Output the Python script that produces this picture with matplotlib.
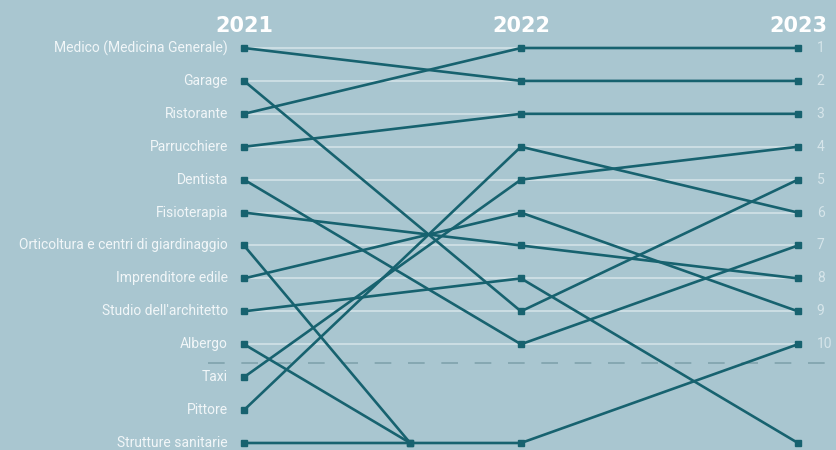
import matplotlib
matplotlib.use('Agg')
import matplotlib.pyplot as plt

# data (13 = out of the top 10)
years = ['2021', '2022', '2023']
labels = ['Medico (Medicina Generale)', 'Garage', 'Ristorante', 'Parrucchiere', 'Dentista',
          'Fisioterapia', 'Orticoltura e centri di giardinaggio', 'Imprenditore edile',
          "Studio dell'architetto", 'Albergo', 'Taxi', 'Pittore', 'Strutture sanitarie']
rank_2021 = [1, 2, 3, 4, 5, 6, 7, 8, 9, 10, 11, 12, 13]
rank_2022 = [2, 9, 1, 3, 10, 7, None, 6, 8, None, 5, 4, 13]
rank_2023 = [2, 5, 1, 3, 7, 8, None, 9, 13, None, 4, 6, 10]
rank_ticks = [1, 2, 3, 4, 5, 6, 7, 8, 9, 10]
off_rank = 13

bg = '#a9c6d0'
line_col = '#17626f'
text_col = '#f1f6f8'

plt.rcParams['font.family'] = ['Roboto', 'DejaVu Sans']

fig = plt.figure(figsize=(8.37, 4.5), dpi=100, facecolor=bg)
ax = fig.add_axes([0, 0, 1, 1])
ax.set_facecolor(bg)
ax.set_xlim(-0.881, 2.141)
ax.set_ylim(13.213, -0.458)
ax.axis('off')

# grid lines for the top 10 and the dashed cut-off
for r in rank_ticks:
    ax.plot([0, 2], [r, r], color='#d2e2e8', lw=1.2, zorder=1)
ax.plot([-0.13, 2.1], [10.57, 10.57], color='#7fa3ad', lw=1.2, dashes=(10, 10), zorder=1)

for i, name in enumerate(labels):
    ranks = [rank_2021[i], rank_2022[i], rank_2023[i]]
    xs, ys = [], []
    for j, r in enumerate(ranks):
        if r is None:
            # dropped out: line falls to the bottom part of the way to next year
            xs.append(j - 1 + 0.6)
            ys.append(off_rank)
            break
        xs.append(j)
        ys.append(r)
    ax.plot(xs, ys, color=line_col, lw=1.9, zorder=3, solid_capstyle='butt')
    ax.plot(xs, ys, 's', color=line_col, ms=4.2, zorder=4)
    ax.text(-0.058, rank_2021[i], name, ha='right', va='center', fontsize=10,
            color=text_col)

for r in rank_ticks:
    ax.text(2.068, r, str(r), ha='left', va='center', fontsize=10, color='#d6e5ea')

for j, yr in enumerate(years):
    ax.text(j, 0.32, yr, ha='center', va='center', fontsize=15, fontweight='bold',
            color='white', family=['DejaVu Sans'])

fig.savefig('out.png', dpi=100, facecolor=bg)
